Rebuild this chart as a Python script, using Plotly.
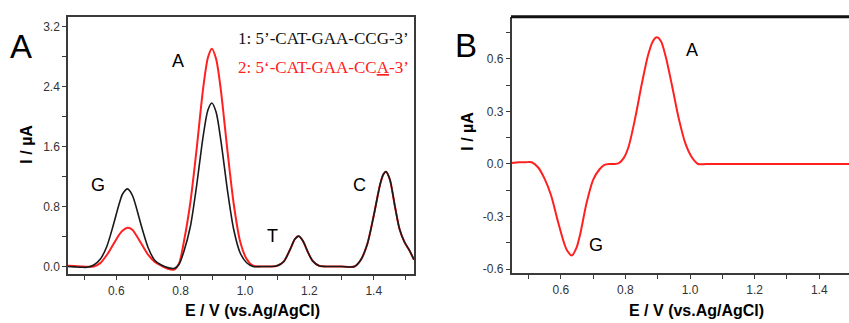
import plotly.graph_objects as go

# ---------------- data ----------------
# Panel A: potential grid (V) and currents (uA)
E_A = [0.45, 0.47, 0.49, 0.51, 0.53, 0.55, 0.57, 0.59, 0.61, 0.62, 0.635, 0.65, 0.66, 0.68,
       0.70, 0.72, 0.74, 0.76, 0.78, 0.795, 0.81, 0.83, 0.85, 0.87, 0.885, 0.897, 0.91, 0.925,
       0.945, 0.965, 0.985, 1.005, 1.025, 1.05, 1.08, 1.10, 1.12, 1.14, 1.155, 1.167, 1.18,
       1.195, 1.21, 1.23, 1.26, 1.30, 1.34, 1.36, 1.38, 1.40, 1.42, 1.43, 1.438, 1.45, 1.465,
       1.48, 1.495, 1.51, 1.525]
I_seq1 = [0.0, -0.005, -0.01, -0.01, 0.02, 0.096, 0.26, 0.54, 0.85, 0.97, 1.035, 0.95, 0.82, 0.51,
          0.24, 0.08, 0.02, -0.015, -0.026, 0.03, 0.2, 0.53, 1.09, 1.74, 2.09, 2.18, 2.06, 1.68,
          1.03, 0.49, 0.18, 0.05, 0.0, 0.0, 0.0, 0.01, 0.064, 0.226, 0.365, 0.405, 0.34,
          0.195, 0.075, 0.01, 0.0, 0.0, 0.0, 0.09, 0.30, 0.68, 1.10, 1.23, 1.265, 1.16, 0.82,
          0.50, 0.33, 0.22, 0.09]
I_seq2 = [0.01, 0.005, 0.0, -0.005, 0.0, 0.045, 0.15, 0.29, 0.43, 0.48, 0.515, 0.49, 0.43, 0.29,
          0.15, 0.06, 0.01, -0.03, -0.04, 0.04, 0.33, 0.85, 1.58, 2.38, 2.79, 2.905, 2.77, 2.35,
          1.56, 0.83, 0.33, 0.1, 0.01, 0.0, 0.0, 0.01, 0.064, 0.226, 0.365, 0.405, 0.34,
          0.195, 0.075, 0.01, 0.0, 0.0, 0.0, 0.09, 0.30, 0.68, 1.10, 1.23, 1.265, 1.16, 0.82,
          0.50, 0.33, 0.22, 0.09]

# Panel B: difference curve
E_B = [0.448, 0.47, 0.49, 0.51, 0.53, 0.55, 0.57, 0.59, 0.61, 0.62, 0.634, 0.648, 0.66, 0.68,
       0.70, 0.72, 0.735, 0.75, 0.765, 0.78, 0.795, 0.81, 0.83, 0.85, 0.87, 0.885, 0.897, 0.91,
       0.925, 0.945, 0.965, 0.985, 1.005, 1.025, 1.05, 1.1, 1.2, 1.3, 1.4, 1.492]
I_B = [0.005, 0.01, 0.01, 0.01, -0.02, -0.085, -0.18, -0.32, -0.45, -0.495, -0.522, -0.48, -0.40, -0.22,
       -0.09, -0.03, -0.005, 0.0, 0.0, 0.005, 0.035, 0.10, 0.26, 0.45, 0.62, 0.70, 0.722, 0.70,
       0.61, 0.44, 0.26, 0.12, 0.04, 0.0, 0.0, 0.0, 0.0, 0.0, 0.0, 0.0]

xtick_vals = [0.6, 0.8, 1.0, 1.2, 1.4]
xtick_text = ["0.6", "0.8", "1.0", "1.2", "1.4"]
ytickA_vals = [0.0, 0.8, 1.6, 2.4, 3.2]
ytickA_text = ["0.0", "0.8", "1.6", "2.4", "3.2"]
ytickB_vals = [-0.6, -0.3, 0.0, 0.3, 0.6]
ytickB_text = ["-0.6", "-0.3", "0.0", "0.3", "0.6"]

legend1 = "1: 5’-CAT-GAA-CCG-3’"
legend2 = "2: 5‘-CAT-GAA-CC<u>A</u>-3’"

# ---------------- figure ----------------
W, H = 849, 323
RED = "#ff2020"
BLK = "#1a1a1a"
AX = "#3a3a3a"
SANS = "Arial, Liberation Sans, sans-serif"
SERIF = "Times New Roman, Liberation Serif, serif"

fig = go.Figure()
fig.add_trace(go.Scatter(x=E_A, y=I_seq2, mode="lines", line=dict(color=RED, width=2, shape="spline", smoothing=0.8),
                         xaxis="x", yaxis="y", showlegend=False))
fig.add_trace(go.Scatter(x=E_A, y=I_seq1, mode="lines", line=dict(color=BLK, width=1.6, shape="spline", smoothing=0.8),
                         xaxis="x", yaxis="y", showlegend=False))
fig.add_trace(go.Scatter(x=E_B, y=I_B, mode="lines", line=dict(color=RED, width=2, shape="spline", smoothing=0.8),
                         xaxis="x2", yaxis="y2", showlegend=False))

def px_x(p):
    return p / W

def px_y(p):
    return (H - p) / H

tickfont = dict(family=SANS, size=12, color="#333333")
common = dict(showgrid=False, zeroline=False, ticks="outside", ticklen=4, tickwidth=1,
              tickcolor=AX, linecolor=AX, linewidth=1.5, showline=True, tickfont=tickfont,
              tickmode="array")

fig.update_layout(
    width=W, height=H, margin=dict(l=0, r=0, t=0, b=0),
    paper_bgcolor="white", plot_bgcolor="white",
    xaxis=dict(domain=[px_x(68), px_x(414)], range=[0.45, 1.525], anchor="y",
               tickvals=xtick_vals, ticktext=xtick_text, mirror=True,
               minor=dict(tickmode="linear", tick0=0, dtick=0.1, ticks="outside", ticklen=4, tickcolor=AX),
               **common),
    yaxis=dict(domain=[px_y(277), px_y(17)], range=[-0.106, 3.33], anchor="x",
               tickvals=ytickA_vals, ticktext=ytickA_text, mirror=True,
               minor=dict(tickmode="linear", tick0=0, dtick=0.4, ticks="outside", ticklen=4, tickcolor=AX),
               **common),
    xaxis2=dict(domain=[px_x(511.7), 1.0], range=[0.448, 1.492], anchor="y2",
                tickvals=xtick_vals, ticktext=xtick_text,
                minor=dict(tickmode="linear", tick0=0, dtick=0.1, ticks="outside", ticklen=4, tickcolor=AX),
                **common),
    yaxis2=dict(domain=[px_y(276), px_y(17)], range=[-0.624, 0.839], anchor="x2",
                tickvals=ytickB_vals, ticktext=ytickB_text,
                minor=dict(tickmode="linear", tick0=0, dtick=0.15, ticks="outside", ticklen=4, tickcolor=AX),
                **common),
)

# thick top border of panel B
fig.add_shape(type="line", xref="paper", yref="paper", x0=px_x(511), x1=1.0,
              y0=px_y(17), y1=px_y(17), line=dict(color="#111111", width=3))

ann = []
def add_text(text, x, y, size, family=SANS, color="black", xref="paper", yref="paper",
             xanchor="center", yanchor="middle", angle=0, bold=False):
    t = f"<b>{text}</b>" if bold else text
    ann.append(dict(text=t, x=x, y=y, xref=xref, yref=yref, showarrow=False,
                    font=dict(family=family, size=size, color=color),
                    xanchor=xanchor, yanchor=yanchor, textangle=angle))

# panel letters
add_text("A", px_x(21), px_y(47), 33)
add_text("B", px_x(466), px_y(46), 33)
# axis titles
add_text("E / V (vs.Ag/AgCl)", px_x(252), px_y(313), 16, bold=True)
add_text("E / V (vs.Ag/AgCl)", px_x(696), px_y(313), 16, bold=True)
add_text("I / µA", px_x(27), px_y(145), 16, bold=True, angle=-90)
add_text("I / µA", px_x(468), px_y(133), 16, bold=True, angle=-90)
# peak labels
add_text("G", 0.543, 1.084, 18, xref="x", yref="y")
add_text("A", 0.792, 2.737, 18, xref="x", yref="y")
add_text("T", 1.084, 0.41, 18, xref="x", yref="y")
add_text("C", 1.355, 1.084, 18, xref="x", yref="y")
add_text("A", 1.006, 0.650, 18, xref="x2", yref="y2")
add_text("G", 0.709, -0.463, 18, xref="x2", yref="y2")
# sequence legend
add_text(legend1, px_x(411), px_y(39), 17, family=SERIF, color="#111111", xanchor="right")
add_text(legend2, px_x(411), px_y(68), 17, family=SERIF, color=RED, xanchor="right")

fig.update_layout(annotations=ann)
fig.write_html("out.html")
